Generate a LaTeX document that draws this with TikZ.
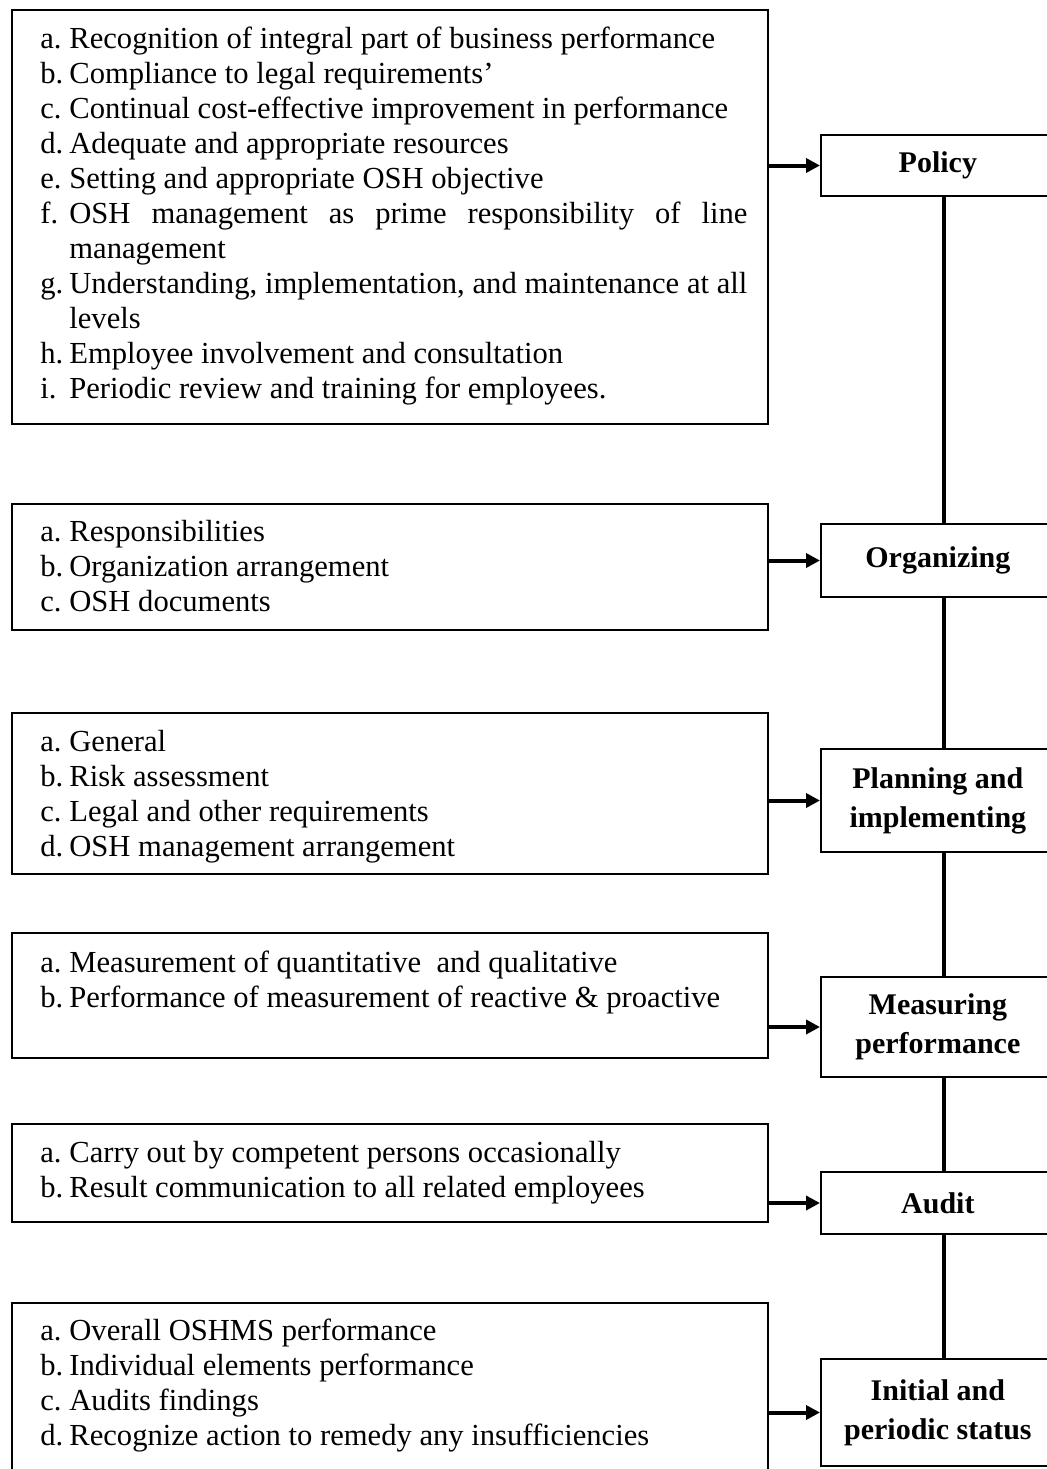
\documentclass[tikz,border=0pt]{standalone}
\usepackage{fontspec}
\setmainfont{Liberation Serif}
\usetikzlibrary{arrows.meta}
\newcommand{\itm}[2]{\noindent\hangindent=14.5pt\hangafter=1\makebox[14.5pt][l]{#1}#2\par}

\begin{document}
\begin{tikzpicture}[x=0.5pt,y=-0.5pt,
  lbox/.style={draw, line width=0.85pt, inner sep=0pt, minimum width=378pt, anchor=north west},
  ltext/.style={inner sep=0pt, text width=353.5pt, align=justify, anchor=base west, font=\fontsize{15.3pt}{17.5pt}\selectfont},
  rbox/.style={draw, line width=0.85pt, inner sep=0pt, minimum width=117pt, anchor=west, align=center, font=\fontsize{15pt}{19.5pt}\selectfont\bfseries},
  spine/.style={line width=1.8pt},
  feed/.style={line width=2pt, -{Triangle[length=7pt,width=7pt]}}]
\useasboundingbox (0,0) rectangle (1047,1469);

\node[lbox, minimum height=207pt] (polbox) at (11,9) {};
\node[lbox, minimum height=63pt] (orgbox) at (11,503) {};
\node[lbox, minimum height=80.5pt] (planbox) at (11,712) {};
\node[lbox, minimum height=62.5pt] (measbox) at (11,932) {};
\node[lbox, minimum height=49pt] (audbox) at (11,1123) {};
\node[lbox, minimum height=89pt] (statbox) at (11,1302) {};

\node[ltext] (poltext) at (40,48.5) {%
\itm{a.}{Recognition of integral part of business performance}%
\itm{b.}{Compliance to legal requirements’}%
\itm{c.}{Continual cost-effective improvement in performance}%
\itm{d.}{Adequate and appropriate resources}%
\itm{e.}{Setting and appropriate OSH objective}%
\itm{f.}{OSH management as prime responsibility of line\linebreak management}%
\itm{g.}{Understanding, implementation, and maintenance at all\linebreak levels}%
\itm{h.}{Employee involvement and consultation}%
\itm{i.}{Periodic review and training for employees.}};
\node[ltext] (orgtext) at (40,541) {%
\itm{a.}{Responsibilities}%
\itm{b.}{Organization arrangement}%
\itm{c.}{OSH documents}};
\node[ltext] (plantext) at (40,751) {%
\itm{a.}{General}%
\itm{b.}{Risk assessment}%
\itm{c.}{Legal and other requirements}%
\itm{d.}{OSH management arrangement}};
\node[ltext] (meastext) at (40,972) {%
\itm{a.}{Measurement of quantitative~ and qualitative}%
\itm{b.}{Performance of measurement of reactive \& proactive}};
\node[ltext] (audtext) at (40,1162) {%
\itm{a.}{Carry out by competent persons occasionally}%
\itm{b.}{Result communication to all related employees}};
\node[ltext] (stattext) at (40,1340) {%
\itm{a.}{Overall OSHMS performance}%
\itm{b.}{Individual elements performance}%
\itm{c.}{Audits findings}%
\itm{d.}{Recognize action to remedy any insufficiencies}};

\node[rbox, minimum height=30.5pt] (pol) at (820,165.5) {Policy};
\node[rbox, minimum height=36.5pt] (org) at (820,560.5) {Organizing};
\node[rbox, minimum height=51.5pt] (plan) at (820,800.5) {Planning and\\implementing};
\node[rbox, minimum height=50pt] (meas) at (820,1027) {Measuring\\performance};
\node[rbox, minimum height=31pt] (aud) at (820,1203) {Audit};
\node[rbox, minimum height=53.5pt] (stat) at (820,1412.5) {Initial and\\periodic status};

\draw[spine] ([xshift=3pt]pol.south) -- ([xshift=3pt]org.north);
\draw[spine] ([xshift=3pt]org.south) -- ([xshift=3pt]plan.north);
\draw[spine] ([xshift=3pt]plan.south) -- ([xshift=3pt]meas.north);
\draw[spine] ([xshift=3pt]meas.south) -- ([xshift=3pt]aud.north);
\draw[spine] ([xshift=3pt]aud.south) -- ([xshift=3pt]stat.north);

\draw[feed] (polbox.east |- pol.west) -- (pol.west);
\draw[feed] (orgbox.east |- org.west) -- (org.west);
\draw[feed] (planbox.east |- plan.west) -- (plan.west);
\draw[feed] (measbox.east |- meas.west) -- (meas.west);
\draw[feed] (audbox.east |- aud.west) -- (aud.west);
\draw[feed] (statbox.east |- stat.west) -- (stat.west);

\end{tikzpicture}
\end{document}
